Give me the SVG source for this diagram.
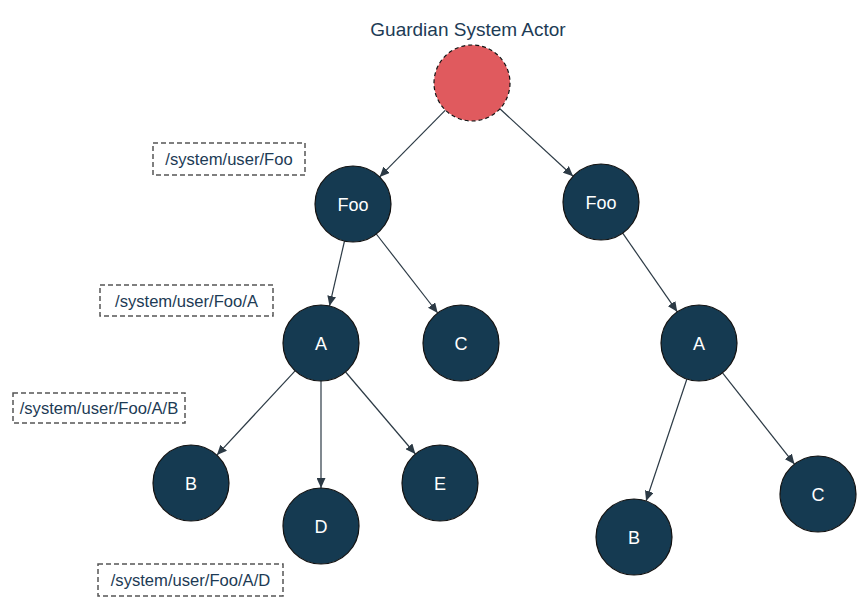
<svg xmlns="http://www.w3.org/2000/svg" width="868" height="610" viewBox="0 0 868 610">
<style>
.node circle{fill:#153a51;stroke:#111;stroke-width:1.2}
.node text{fill:#fff;font-family:"Liberation Sans",Arial,sans-serif;font-size:18px;text-anchor:middle}
.lbl rect{fill:none;stroke:#555;stroke-width:1.5;stroke-dasharray:5,3}
.lbl text{fill:#1d3b55;font-family:"Liberation Sans",Arial,sans-serif;font-size:16.6px;text-anchor:middle}
.edges line{stroke:#2c3a45;stroke-width:1.2;marker-end:url(#arr)}
</style>
<defs>
<marker id="arr" markerUnits="userSpaceOnUse" markerWidth="11" markerHeight="9" refX="10" refY="4.5" orient="auto">
<path d="M0,0 L10,4.5 L0,9 z" fill="#2c3a45"/>
</marker>
</defs>
<rect width="868" height="610" fill="#fff"/>
<text x="468" y="36" font-family="'Liberation Sans',Arial,sans-serif" font-size="19" fill="#1d3b55" text-anchor="middle">Guardian System Actor</text>
<g class="edges">
<line x1="445.4" y1="110.1" x2="379.6" y2="176.9"/>
<line x1="499.9" y1="108.8" x2="573.1" y2="176.2"/>
<line x1="344.5" y1="241" x2="329.5" y2="305.9"/>
<line x1="376.3" y1="234" x2="437.7" y2="313"/>
<line x1="622.7" y1="233.2" x2="677.3" y2="311.8"/>
<line x1="295.1" y1="370.9" x2="216.9" y2="455.1"/>
<line x1="321" y1="381" x2="321" y2="488"/>
<line x1="345.6" y1="372" x2="415.4" y2="454"/>
<line x1="686.9" y1="379" x2="646.1" y2="501"/>
<line x1="722.5" y1="372.8" x2="794.5" y2="464.2"/>
</g>
<g id="root"><circle cx="472" cy="83" r="38" fill="#e05a5e" stroke="#111" stroke-width="1.2" stroke-dasharray="4,3"/></g>
<g id="fooL" class="node"><circle cx="353" cy="204" r="38"/><text x="353" y="210.5">Foo</text></g>
<g id="fooR" class="node"><circle cx="601" cy="202" r="38"/><text x="601" y="208.5">Foo</text></g>
<g id="aL" class="node"><circle cx="321" cy="343" r="38"/><text x="321" y="349.5">A</text></g>
<g id="cL" class="node"><circle cx="461" cy="343" r="38"/><text x="461" y="349.5">C</text></g>
<g id="bL" class="node"><circle cx="191" cy="483" r="38"/><text x="191" y="489.5">B</text></g>
<g id="dL" class="node"><circle cx="321" cy="526" r="38"/><text x="321" y="532.5">D</text></g>
<g id="eL" class="node"><circle cx="440" cy="483" r="38"/><text x="440" y="489.5">E</text></g>
<g id="aR" class="node"><circle cx="699" cy="343" r="38"/><text x="699" y="349.5">A</text></g>
<g id="bR" class="node"><circle cx="634" cy="537" r="38"/><text x="634" y="543.5">B</text></g>
<g id="cR" class="node"><circle cx="818" cy="494" r="38"/><text x="818" y="500.5">C</text></g>
<g id="lbl1" class="lbl"><rect x="153" y="143" width="152" height="32"/><text x="229" y="165">/system/user/Foo</text></g>
<g id="lbl2" class="lbl"><rect x="100" y="285" width="173" height="31"/><text x="186.5" y="306.5">/system/user/Foo/A</text></g>
<g id="lbl3" class="lbl"><rect x="13" y="393" width="172" height="30"/><text x="99" y="414">/system/user/Foo/A/B</text></g>
<g id="lbl4" class="lbl"><rect x="98" y="564" width="185" height="32"/><text x="190.5" y="586">/system/user/Foo/A/D</text></g>
</svg>
